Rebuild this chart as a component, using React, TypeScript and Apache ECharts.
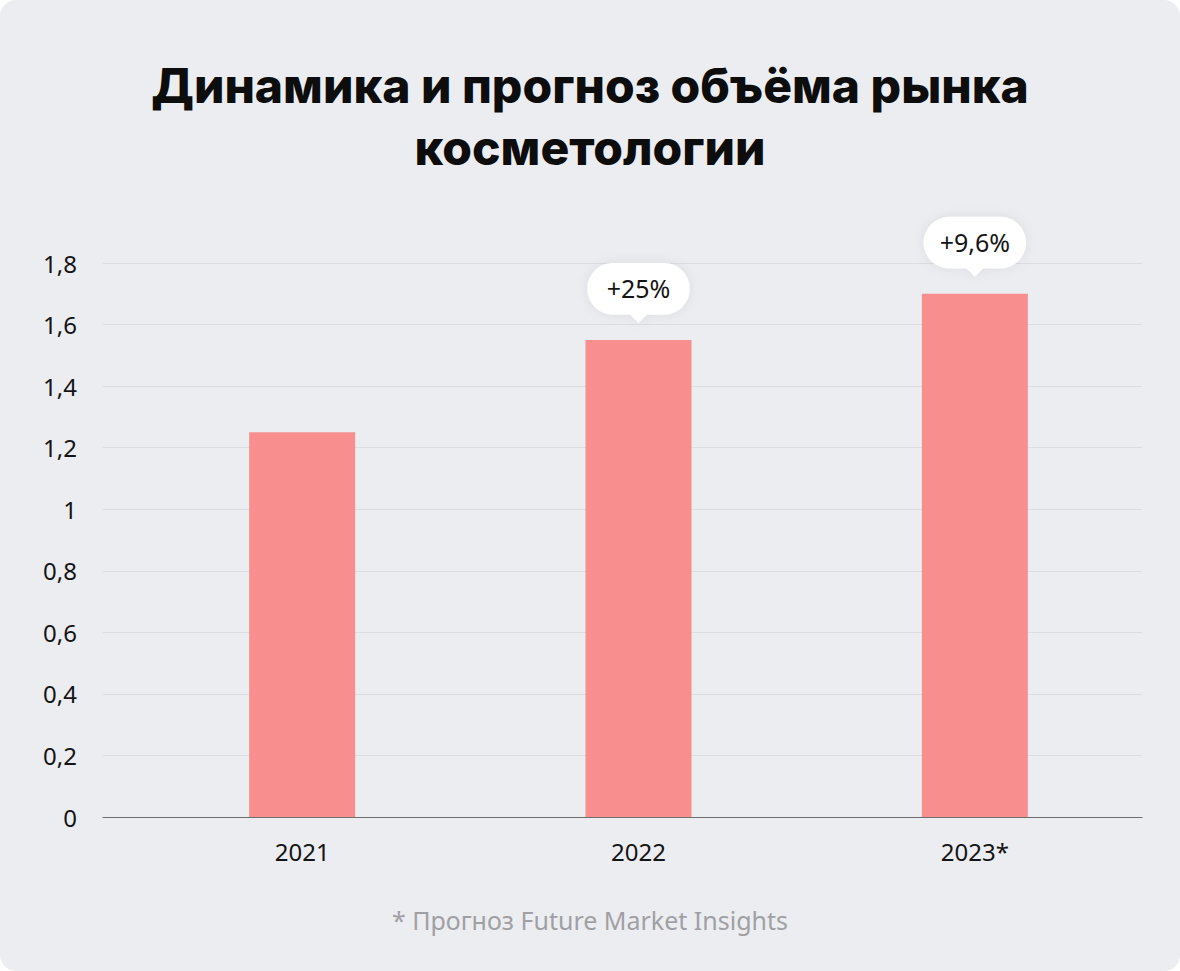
import React, { useEffect, useRef } from "react";
import * as echarts from "echarts";

const categories = ["2021", "2022", "2023*"];
const marketValues = [1.25, 1.55, 1.7];
const growthLabels = [
  { category: "2022", value: 1.55, text: "+25%" },
  { category: "2023*", value: 1.7, text: "+9,6%" },
];
const yTicks = { min: 0, max: 1.8, interval: 0.2 };
const titleText = "Динамика и прогноз объёма рынка\nкосметологии";
const footnote = "* Прогноз Future Market Insights";

const BUBBLE =
  "path://M25,0 H75 A25,25 0 0 1 75,50 H58 L50,58 L42,50 H25 A25,25 0 0 1 25,0 Z";

export default function App() {
  const ref = useRef<HTMLDivElement>(null);
  useEffect(() => {
    if (!ref.current) return;
    const chart = echarts.init(ref.current, undefined, { renderer: "svg" });
    const gridTop = 263;
    const gridBottom = 154;
    chart.setOption({
      animation: false,
      backgroundColor: "transparent",
      graphic: [
        {
          type: "text",
          x: 590,
          y: 54,
          style: {
            text: titleText,
            fontFamily: "Inter",
            fontSize: 48,
            fontWeight: 800,
            fill: "#0d0d0d",
            lineHeight: 62,
            align: "center",
            verticalAlign: "top",
          },
        },
        {
          type: "text",
          x: 590,
          y: 920,
          style: {
            text: footnote,
            fontFamily: "Noto Sans",
            fontSize: 25,
            fill: "#a0a0a4",
            align: "center",
            verticalAlign: "middle",
          },
        },
      ],
      grid: [
        { left: 103, right: 38, top: gridTop, bottom: gridBottom },
        { left: 134, right: 37, top: gridTop, bottom: gridBottom },
      ],
      xAxis: [
        {
          type: "category",
          gridIndex: 0,
          data: [""],
          axisLine: { show: true, lineStyle: { color: "#6f6f72", width: 1.2 } },
          axisTick: { show: false },
          axisLabel: { show: false },
        },
        {
          type: "category",
          gridIndex: 1,
          data: categories,
          axisLine: { show: false },
          axisTick: { show: false },
          axisLabel: {
            margin: 22,
            fontFamily: "Noto Sans",
            fontSize: 24,
            color: "#141414",
          },
        },
      ],
      yAxis: [
        {
          type: "value",
          gridIndex: 0,
          min: yTicks.min,
          max: yTicks.max,
          interval: yTicks.interval,
          axisLine: { show: false },
          axisTick: { show: false },
          splitLine: { show: true, lineStyle: { color: "#dcdde2", width: 1 } },
          axisLabel: {
            margin: 26,
            fontFamily: "Noto Sans",
            fontSize: 24,
            color: "#141414",
            formatter: (v: number) =>
              String(Math.round(v * 10) / 10).replace(".", ","),
          },
        },
        {
          type: "value",
          gridIndex: 1,
          min: yTicks.min,
          max: yTicks.max,
          interval: yTicks.interval,
          show: false,
          splitLine: { show: false },
        },
      ],
      series: [
        {
          type: "bar",
          xAxisIndex: 1,
          yAxisIndex: 1,
          data: marketValues,
          barWidth: 106,
          itemStyle: { color: "#f88e8e" },
          z: 1,
          markPoint: {
            symbol: BUBBLE,
            symbolSize: [102, 60],
            symbolOffset: [0, -47],
            itemStyle: {
              color: "#ffffff",
              shadowBlur: 12,
              shadowColor: "rgba(0,0,0,0.07)",
            },
            label: {
              show: true,
              offset: [0, -5],
              fontFamily: "Noto Sans",
              fontSize: 25,
              color: "#141414",
              formatter: (p: any) => p.name,
            },
            data: growthLabels.map((g) => ({
              name: g.text,
              coord: [g.category, g.value],
            })),
          },
        },
      ],
    });
    return () => chart.dispose();
  }, []);
  return (
    <div
      style={{
        position: "fixed",
        left: 0,
        top: 0,
        width: 1180,
        height: 971,
        background: "#ffffff",
      }}
    >
      <div
        ref={ref}
        style={{
          width: 1180,
          height: 971,
          background: "#ecedf1",
          borderRadius: 16,
          overflow: "hidden",
        }}
      />
    </div>
  );
}
